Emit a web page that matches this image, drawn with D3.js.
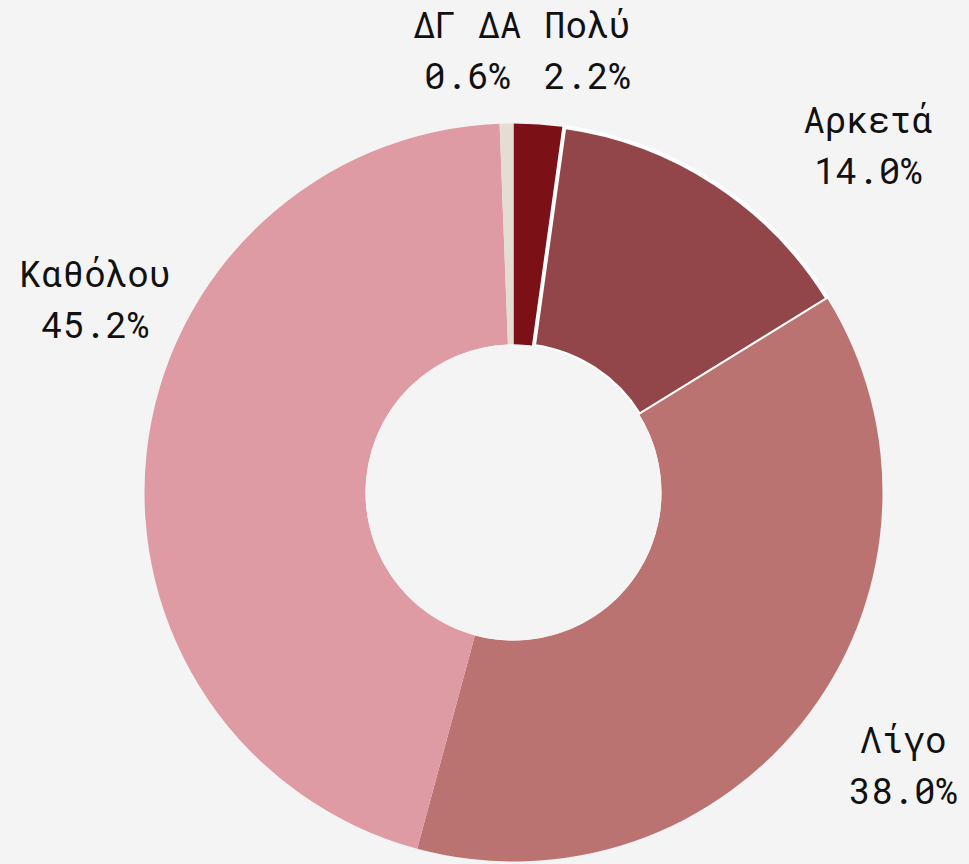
<!DOCTYPE html>
<html>
<head>
<meta charset="utf-8">
<script src="https://cdn.jsdelivr.net/npm/d3@7"></script>
<style>
  html, body { margin: 0; padding: 0; background: #f4f4f4; }
</style>
</head>
<body>
<div id="chart"></div>
<script>
// data
const categories = ["Πολύ", "Αρκετά", "Λίγο", "Καθόλου", "ΔΓ ΔΑ"];
const values = [2.2, 14.0, 38.0, 45.2, 0.6];
const colors = ["#7b1116", "#924649", "#bb7371", "#de9ba4", "#e5ddd4"];

// label placement: shift from slice mid angle (degrees) and extra radius
const labelShift = [5.5, 12.5, -1.7, 18.3, -4.9];
const labelExtra = [79, 127, 107, 92, 75];

const width = 969, height = 864;
const cx = 513.5, cy = 492.5;
const outerR = 369, innerR = 148;

const svg = d3.select("#chart")
  .append("svg")
    .attr("width", width)
    .attr("height", height)
    .style("background", "#f4f4f4");

const g = svg.append("g")
  .attr("transform", `translate(${cx}, ${cy})`);

const pie = d3.pie()
  .sort(null)
  .value(d => d);

const arcs = pie(values);

const arc = d3.arc()
  .innerRadius(innerR)
  .outerRadius(outerR);

g.selectAll("path.slice")
  .data(arcs)
  .join("path")
    .attr("class", "slice")
    .attr("d", arc)
    .attr("fill", (d, i) => colors[i])
    .attr("stroke", (d, i) => i === 1 ? "#ffffff" : "none")
    .attr("stroke-width", 4)
    .attr("stroke-linejoin", "round");

// redraw the outer side of the white-edged slice's neighbours is not needed;
// keep the hole clean
g.append("circle")
  .attr("r", innerR)
  .attr("fill", "#f4f4f4");

// labels
const fmt = d3.format(".1f");
const labels = g.selectAll("text.lbl")
  .data(arcs)
  .join("text")
    .attr("class", "lbl")
    .attr("text-anchor", "middle")
    .style("font-family", "'Roboto Mono', 'DejaVu Sans Mono', monospace")
    .style("font-size", "36px")
    .style("fill", "#111");

labels.each(function(d, i) {
  const mid = (d.startAngle + d.endAngle) / 2 + labelShift[i] * Math.PI / 180;
  const r = outerR + labelExtra[i];
  const x = r * Math.sin(mid);
  const y = -r * Math.cos(mid);
  const t = d3.select(this);
  t.append("tspan")
    .attr("x", x)
    .attr("y", y - 12.5)
    .text(categories[i]);
  t.append("tspan")
    .attr("x", x)
    .attr("y", y + 38.5)
    .text(fmt(values[i]) + "%");
});
</script>
</body>
</html>
